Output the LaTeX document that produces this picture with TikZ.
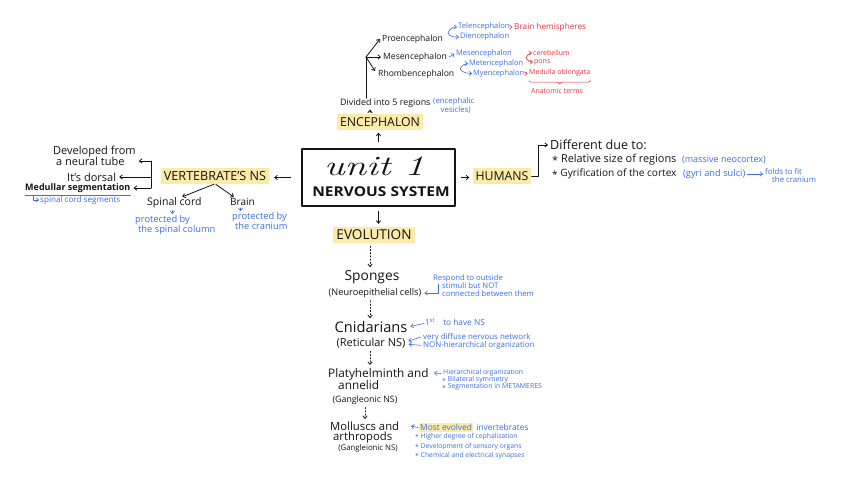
\documentclass[tikz,border=0pt]{standalone}
\usepackage{fontspec}
\setsansfont{Open Sans}
\usetikzlibrary{arrows.meta,decorations.pathreplacing}
\definecolor{hblue}{HTML}{3C6FE0}
\definecolor{hred}{HTML}{E8323C}
\definecolor{hyel}{HTML}{FCEBA8}
\definecolor{ink}{HTML}{141414}
\begin{document}
\begin{tikzpicture}[x=1pt,y=-1pt, line cap=round, line join=round,
  every node/.style={inner sep=0pt, text=ink},
  fs/.style n args={2}{font=\sffamily\fontsize{#1}{#2}\selectfont},
  bl/.style={text=hblue},
  rd/.style={text=hred},
  ln/.style={draw=ink, line width=0.8pt},
  arr/.style={ln, -{Straight Barb[length=2.6pt,width=4.4pt]}},
  darr/.style={arr, dash pattern=on 1.2pt off 2pt},
  barr/.style={arr, draw=hblue, line width=0.6pt},
  rarr/.style={arr, draw=hred, line width=0.6pt},
  hl/.style={fill=hyel, inner xsep=3pt, inner ysep=3pt},
  big/.style={fs={12.3}{13}},
]
\useasboundingbox[fill=white] (0,0) rectangle (848,484);

% ---------- centre ----------
\node[draw=ink, line width=2.6pt, minimum width=153pt, minimum height=57pt] (box) at (378.5,177.5) {};
\node[font=\rmfamily\itshape\fontsize{28}{28}\selectfont] (unit) at (374,166) {\scalebox{1.4}[1]{unit 1}};
\node[font=\sffamily\bfseries\fontsize{13.5}{14}\selectfont] (ns) at (381,192) {\scalebox{1.15}[1]{NERVOUS SYSTEM}};

% ---------- top: encephalon ----------
\node[big, hl] (enc) at (380,122) {ENCEPHALON};
\draw[arr, shorten <=6pt, shorten >=3pt] (box.north) -- (box.north |- enc.south);
\node[fs={8.9}{9}, anchor=west] (div) at (340,103) {Divided into 5 regions};
\node[fs={7.8}{7.5}, bl, anchor=west, align=center] (ves) at (433,106) {(encephalic\\\hspace*{4pt}vesicles)};
\draw[arr, shorten <=2pt, shorten >=2pt] ([xshift=-10pt]enc.north) -- ([xshift=-10pt]enc.north |- div.south);
\coordinate (br) at (366,57);
\draw[ln] (div.north -| br) -- (br);
\node[fs={8.6}{9}, anchor=west] (pro) at (382,39) {Proencephalon};
\node[fs={8.6}{9}, anchor=west] (mes) at (383,57) {Mesencephalon};
\node[fs={8.6}{9}, anchor=west] (rho) at (378,74) {Rhombencephalon};
\draw[arr] (br) -- ([xshift=-2pt]pro.west);
\draw[arr] (br) -- ([xshift=-2pt]mes.west);
\draw[arr] (br) -- ([xshift=-3pt,yshift=3pt]rho.west);

\coordinate (pv) at (448,33);
\node[fs={7.6}{8}, bl, anchor=west] (tel) at (458,27) {Telencephalon};
\node[fs={7.6}{8}, bl, anchor=west] (die) at (460,37) {Diencephalon};
\draw[barr] (pv) to[out=70,in=180] ([xshift=-1pt]tel.west);
\draw[barr] (pv) to[out=-70,in=180] ([xshift=-1pt]die.west);
\node[fs={8.2}{8}, rd, anchor=west] (bh) at (514,27) {Brain hemispheres};
\draw[rarr] ([xshift=1.5pt]tel.east) -- ([xshift=-1.5pt]bh.west);
\node[fs={7.5}{8}, bl, anchor=west] (mes2) at (456,54) {Mesencephalon};
\draw[barr] ([xshift=2pt]mes.east) -- ([xshift=-1.5pt]mes2.west);

\coordinate (rv) at (460,69);
\node[fs={7.4}{8}, bl, anchor=west] (met) at (469,63.5) {Metencephalon};
\node[fs={7.4}{8}, bl, anchor=west] (mye) at (473,73.5) {Myencephalon};
\draw[barr] (rv) to[out=60,in=180] ([xshift=-1pt]met.west);
\draw[barr] (rv) to[out=-50,in=180] ([xshift=-1pt]mye.west);

\coordinate (mv) at (526,58);
\node[fs={7}{8}, rd, anchor=west] (cer) at (533,53) {cerebellum};
\node[fs={7}{8}, rd, anchor=west] (pons) at (534,62) {pons};
\draw[rarr] (mv) to[out=70,in=180] ([xshift=-1pt]cer.west);
\draw[rarr] (mv) to[out=-60,in=180] ([xshift=-1pt]pons.west);
\node[fs={7}{8}, rd, anchor=west] (medo) at (529,73) {Medulla oblongata};
\draw[rarr] ([xshift=1.5pt]mye.east) -- ([xshift=-1.5pt]medo.west);
\draw[hred, line width=0.6pt, decorate, decoration={brace, mirror, amplitude=3pt}]
  ([yshift=-4pt]medo.south west) -- ([yshift=-4pt]medo.south east);
\node[fs={7}{8}, rd] (anat) at (557,91) {Anatomic terms};

% ---------- left: vertebrates ----------
\node[fs={12.6}{13}, hl] (vert) at (215,176) {VERTEBRATE'S NS};
\draw[arr, shorten <=10pt, shorten >=5pt] (box.west) -- (vert.east |- box.west);
\node[fs={11}{11}, anchor=north west, align=left] (dev) at (53,146) {Developed from\\\hspace*{3pt}a neural tube};
\node[fs={11}{12}, anchor=west] (dors) at (67,177) {It's dorsal};
\node[font=\sffamily\bfseries\fontsize{9}{10}\selectfont, anchor=west] (medu) at (25,188) {Medullar segmentation};
\draw[hblue, line width=0.6pt] ([yshift=-2.5pt]medu.south west) -- ([yshift=-2.5pt]medu.south east);
\node[fs={8.1}{8}, bl, anchor=west] (scs) at (40,200) {spinal cord segments};
\draw[barr] ([xshift=-7pt,yshift=4pt]scs.west) |- ([xshift=-1pt]scs.west);
\coordinate (vt) at (151,161);
\coordinate (vbm) at (151,177);
\coordinate (vbb) at (151,188);
\draw[ln] (vt) -- (vbb);
\draw[arr, shorten >=3pt] (vt) -- (vt -| dev.east);
\draw[arr, shorten >=3pt] (vbm) -- (dors.east |- vbm);
\draw[arr, shorten >=3pt] (vbb) -- (medu.east |- vbb);

\node[fs={10.5}{10}, anchor=west] (spc) at (147,203) {Spinal cord};
\node[fs={10}{10}, anchor=west] (brn) at (230,202) {Brain};
\draw[arr, shorten <=1pt, shorten >=2pt] (vert.south) -- ([xshift=6pt]spc.north);
\draw[arr, shorten <=1pt, shorten >=2pt] (vert.south) -- ([xshift=-7pt]brn.north);
\node[fs={9.3}{9}, bl, anchor=north west, align=left] (psc) at (135,215) {protected by\\\hspace*{3pt}the spinal column};
\node[fs={9.3}{8.5}, bl, anchor=north west, align=left] (pbr) at (232,212) {protected by\\\hspace*{3pt}the cranium};
\draw[barr, shorten <=2pt, shorten >=1pt] ([xshift=-2pt]spc.south) -- ([xshift=-2pt]spc.south |- psc.north);
\draw[barr, shorten <=2pt, shorten >=1pt] ([xshift=-2pt]brn.south) -- ([xshift=-2pt]brn.south |- pbr.north);

% ---------- right: humans ----------
\node[big, hl] (hum) at (502,176) {HUMANS};
\draw[arr, shorten <=5pt, shorten >=3pt] (box.east) -- (hum.west |- box.east);
\node[fs={12.6}{12}, anchor=west] (dif) at (550,145) {Different due to:};
\coordinate (hc) at (538,176);
\draw[arr, shorten >=2pt] (hum.east) -- (hc) |- (dif.west);
\node[fs={10.9}{10}, anchor=west] (rel) at (552,160) {\raisebox{-0.35ex}{*} Relative size of regions};
\node[fs={9}{9}, bl, anchor=west] (neo) at (682,160) {(massive neocortex)};
\node[fs={10.1}{10}, anchor=west] (gyr) at (552,174) {\raisebox{-0.35ex}{*} Gyrification of the cortex};
\node[fs={9.3}{9}, bl, anchor=west] (sul) at (683,174) {(gyri and sulci)};
\node[fs={7.8}{8}, bl, anchor=north west, align=left] (fold) at (765,168) {folds to fit\\\hspace*{7pt}the cranium};
\draw[barr, shorten <=2pt, shorten >=2pt] (sul.east) -- (fold.west |- sul.east);

% ---------- bottom: evolution ----------
\node[fs={13.6}{14}, hl] (evo) at (374,235) {EVOLUTION};
\draw[arr, shorten <=4pt, shorten >=3pt] (box.south) -- (box.south |- evo.north);
\node[fs={13.8}{14}] (spo) at (372,277) {Sponges};
\draw[darr, shorten <=3pt, shorten >=3pt] ([xshift=-4pt]evo.south) -- ([xshift=-4pt]evo.south |- spo.north);
\node[fs={9.2}{8}] (neu) at (375,293) {(Neuroepithelial cells)};
\node[fs={14.6}{14}] (cni) at (371,327) {Cnidarians};
\draw[darr, shorten <=3pt, shorten >=3pt] ([xshift=-5pt]neu.south) -- ([xshift=-5pt]neu.south |- cni.north);
\node[fs={11}{10}] (ret) at (371,343) {(Reticular NS)};
\node[fs={11.8}{12}, anchor=north west, align=left] (pla) at (328,368) {Platyhelminth and\\\hspace*{10pt}annelid};
\draw[darr, shorten <=3pt, shorten >=3pt] ([xshift=-1pt]ret.south) -- ([xshift=-1pt]ret.south |- pla.north);
\node[fs={8.8}{8}] (g1) at (365,400) {(Gangleonic NS)};
\node[fs={11.3}{10}, anchor=north west, align=left] (mol) at (330,422) {Molluscs and\\\hspace*{3pt}arthropods};
\draw[darr, shorten <=3pt, shorten >=3pt] (g1.south) -- (g1.south |- mol.north);
\node[fs={7.8}{8}] (g2) at (368,448) {(Gangleionic NS)};

% blue notes
\node[fs={7.7}{7.6}, bl, anchor=north west, align=left] (resp) at (433,274) {Respond to outside\\\hspace*{9pt}stimuli but NOT\\\hspace*{9pt}connected between them};
\coordinate (rc) at (438,284);
\draw[barr, shorten >=3pt] (rc) |- (neu.east);
\node[fs={8.3}{8}, bl, anchor=west] (first) at (425,322.5) {1\textsuperscript{st}\hspace{8pt}to have NS};
\draw[barr, shorten >=3pt] ([xshift=-1pt,yshift=-1pt]first.west) -- (cni.east);
\node[fs={7.9}{8}, bl, anchor=north west, align=left] (dff) at (423,333) {very diffuse nervous network\\NON-hierarchical organization};
\draw[barr, shorten >=3pt] ([xshift=-2pt,yshift=-4pt]dff.north west) -- ([yshift=1pt]ret.east);
\draw[barr, shorten >=3pt] ([xshift=-2pt,yshift=4pt]dff.south west) -- ([yshift=-1pt]ret.east);
\node[fs={6.9}{7}, bl, anchor=north west, align=left] (hier) at (442,369.5) {\hspace*{1pt}Hierarchical organization\\\raisebox{-0.3ex}{*} Bilateral symmetry\\\raisebox{-0.3ex}{*} Segmentation in METAMERES};
\coordinate (pe) at (434,373);
\draw[barr] ([xshift=-1pt,yshift=-4pt]hier.north west) -- (pe);
\node[fs={8.4}{8}, bl, hl, inner xsep=1pt, inner ysep=0.8pt, anchor=west] (most) at (419,427.5) {Most evolved};
\node[fs={8.4}{8}, bl, anchor=west] (inv) at ([xshift=3pt]most.east) {invertebrates};
\coordinate (me) at (411,426);
\draw[barr] ([xshift=-1pt]most.west) -- (me);
\node[fs={6.8}{9.3}, bl, anchor=north west, align=left] (feat) at (415,433.5) {\raisebox{-0.3ex}{*} Higher degree of cephalization\\\raisebox{-0.3ex}{*} Development of sensory organs\\\raisebox{-0.3ex}{*} Chemical and electrical synapses};
\end{tikzpicture}
\end{document}
